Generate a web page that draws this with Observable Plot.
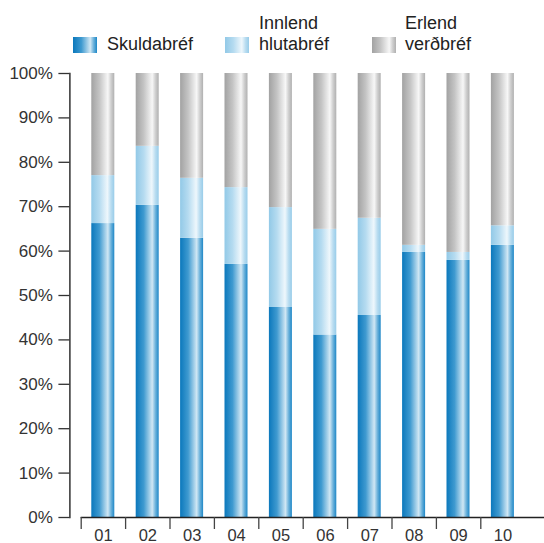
<!DOCTYPE html>
<html>
<head>
<meta charset="utf-8">
<script src="https://cdn.jsdelivr.net/npm/d3@7"></script>
<script src="https://cdn.jsdelivr.net/npm/@observablehq/plot@0.6"></script>
<style>
  html, body { margin: 0; padding: 0; background: #fff; }
  body { width: 544px; height: 543px; overflow: hidden; font-family: "Liberation Sans", Arial, sans-serif; }
  #legend { position: relative; height: 60px; width: 544px; color: #222; font-size: 18px; line-height: 21px; }
  .sw { position: absolute; top: 37px; width: 24px; height: 16px; }
  .lt { position: absolute; top: 12.5px; height: 42px; display: flex; flex-direction: column; justify-content: flex-end; }
  svg { display: block; }
</style>
</head>
<body>
<div id="legend"></div>
<div id="chart"></div>
<script>
const years = ["01","02","03","04","05","06","07","08","09","10"];
const seriesNames = ["Skuldabréf", "Innlend hlutabréf", "Erlend verðbréf"];
const legendLines = [["Skuldabréf"], ["Innlend", "hlutabréf"], ["Erlend", "verðbréf"]];
const skuldabref = [66.2, 70.3, 62.9, 57.0, 47.3, 41.1, 45.5, 59.7, 57.9, 61.3];
const innlend    = [10.8, 13.3, 13.5, 17.3, 22.5, 23.8, 21.9, 1.6, 1.8, 4.4];
const erlend     = [23.0, 16.4, 23.6, 25.7, 30.2, 35.1, 32.6, 38.7, 40.3, 34.3];
const yTicks = [0,10,20,30,40,50,60,70,80,90,100];

const gradients = [
  {id: "gBlue", stops: [[0,"#0b78bc"],[0.35,"#3f9ad0"],[0.72,"#d0e7f4"],[0.86,"#6cb2db"],[1,"#1e87c7"]]},
  {id: "gLight", stops: [[0,"#92c9e7"],[0.35,"#b5dbf0"],[0.7,"#eef7fc"],[0.86,"#b8dcf0"],[1,"#98cce9"]]},
  {id: "gGray", stops: [[0,"#a2a2a2"],[0.35,"#c4c4c4"],[0.72,"#f7f7f7"],[0.86,"#cfcfcf"],[1,"#b0b0b0"]]}
];

// legend
const legend = document.getElementById("legend");
const swX = [73, 225, 372];
const txX = [107, 259, 405];
gradients.forEach((g, i) => {
  const sw = document.createElement("div");
  sw.className = "sw";
  sw.style.left = swX[i] + "px";
  sw.style.background = "linear-gradient(to right," + g.stops.map(s => s[1] + " " + (s[0]*100) + "%").join(",") + ")";
  legend.appendChild(sw);
  const t = document.createElement("div");
  t.className = "lt";
  t.style.left = txX[i] + "px";
  legendLines[i].forEach(l => { const d = document.createElement("div"); d.textContent = l; t.appendChild(d); });
  legend.appendChild(t);
});

const data = [];
years.forEach((y, i) => {
  data.push({year: y, series: seriesNames[0], value: skuldabref[i]});
  data.push({year: y, series: seriesNames[1], value: innlend[i]});
  data.push({year: y, series: seriesNames[2], value: erlend[i]});
});

const defsMark = () => {
  const defs = d3.create("svg:defs");
  gradients.forEach(g => {
    const lg = defs.append("linearGradient").attr("id", g.id).attr("x1", "0").attr("x2", "1").attr("y1", "0").attr("y2", "0");
    g.stops.forEach(s => lg.append("stop").attr("offset", s[0]).attr("stop-color", s[1]));
  });
  return defs.node();
};

const band = (524.7 - 80.7) / 10;

const chart = Plot.plot({
  width: 544,
  height: 483,
  marginTop: 13,
  marginBottom: 26,
  marginLeft: 80.7,
  marginRight: 19.3,
  style: {fontFamily: "Liberation Sans, Arial, sans-serif", fontSize: "17px", color: "#333", background: "white"},
  x: {domain: years, padding: 0, round: false, label: null},
  y: {domain: [0, 100], label: null},
  color: {domain: seriesNames, range: gradients.map(g => `url(#${g.id})`)},
  marks: [
    defsMark,
    Plot.barY(data, Plot.stackY({order: seriesNames}, {x: "year", y: "value", fill: "series", insetLeft: 10.6, insetRight: 10.8})),
    Plot.axisY({ticks: yTicks, tickFormat: d => d + "%", tickSize: 11, tickPadding: 6, dx: -11.3, stroke: "#333", strokeWidth: 1.3, fill: "#333", fontSize: 17, label: null}),
    Plot.frame({anchor: "left", dx: -11.3, stroke: "#222", strokeWidth: 1.4}),
    Plot.ruleY([0], {stroke: "#222", strokeWidth: 1.4, insetRight: -19.3}),
    Plot.axisX({tickSize: 12, tickFormat: () => "", dx: -band / 2, stroke: "#444", strokeWidth: 1.3, label: null}),
    Plot.axisX({tickSize: 0, tickPadding: 12, fill: "#333", fontSize: 16.5, label: null})
  ]
});
document.getElementById("chart").appendChild(chart);
</script>
</body>
</html>
